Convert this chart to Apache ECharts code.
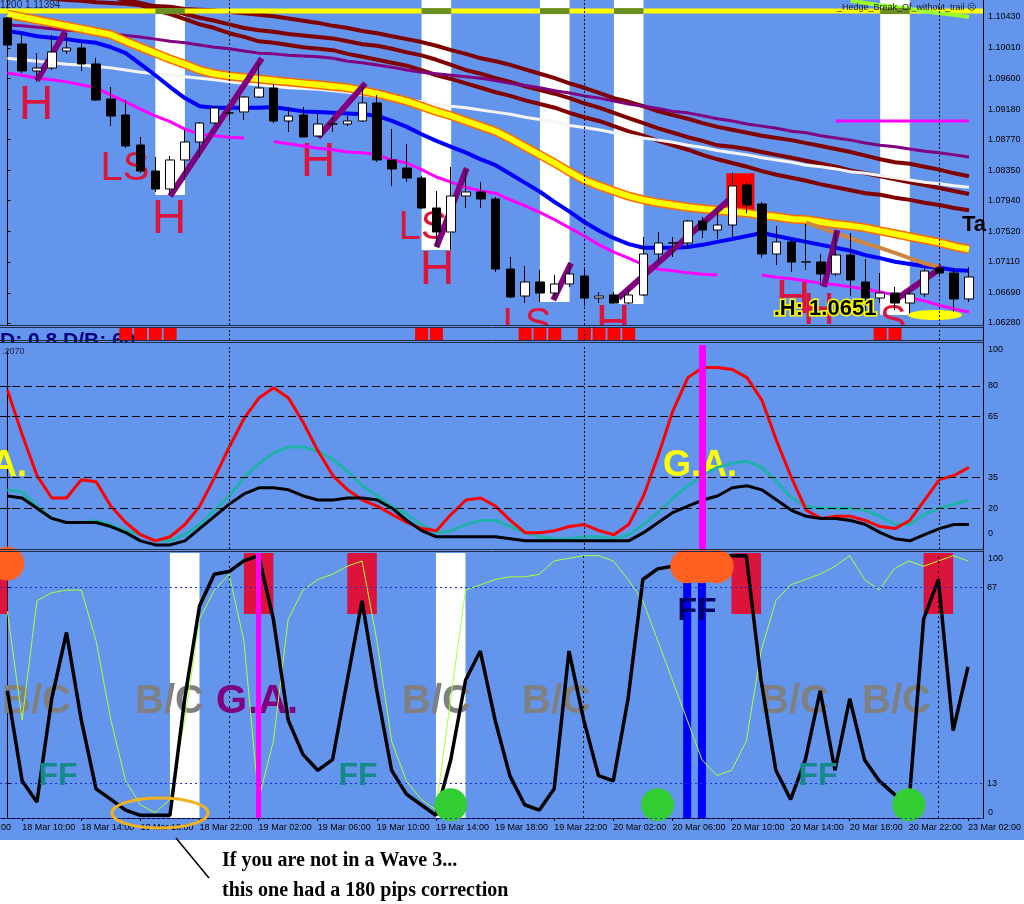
<!DOCTYPE html>
<html><head><meta charset="utf-8">
<script src="https://cdn.jsdelivr.net/npm/echarts@6/dist/echarts.min.js"></script>
<style>html,body{margin:0;padding:0;background:#fff;}#c{width:1024px;height:904px;}</style>
</head><body><div id="c"></div>
<script>
// ---------- DATA ----------
const tickIdx = [1,5,9,13,17,21,25,29,33,37,41,45,49,53,57,61,65];
const tickText = ['18 Mar 10:00','18 Mar 14:00','18 Mar 18:00','18 Mar 22:00','19 Mar 02:00','19 Mar 06:00','19 Mar 10:00','19 Mar 14:00','19 Mar 18:00','19 Mar 22:00','20 Mar 02:00','20 Mar 06:00','20 Mar 10:00','20 Mar 14:00','20 Mar 18:00','20 Mar 22:00','23 Mar 02:00'];
const priceTicks = [1.1043,1.1001,1.0960,1.0918,1.0877,1.0835,1.0794,1.0752,1.0711,1.0669,1.0628];
const daySeparators = [15,39,63];

const opens = [1.10416,1.10064,1.09698,1.09738,1.09969,1.10010,1.09793,1.09318,1.09101,1.08694,1.08341,1.08097,1.08491,1.08735,1.08992,1.09128,1.09142,1.09345,1.09467,1.09020,1.09101,1.08816,1.08979,1.08979,1.09020,1.09264,1.08491,1.08382,1.08246,1.07840,1.07514,1.08002,1.08057,1.07962,1.07012,1.06646,1.06836,1.06687,1.06809,1.06917,1.06619,1.06660,1.06551,1.06660,1.07216,1.07365,1.07365,1.07663,1.07541,1.07609,1.08152,1.07894,1.07216,1.07379,1.07107,1.07107,1.06945,1.07202,1.06836,1.06619,1.06687,1.06551,1.06673,1.07026,1.06958,1.06606];
const closes = [1.10050,1.09698,1.09738,1.09955,1.10010,1.09793,1.09304,1.09087,1.08681,1.08341,1.08097,1.08491,1.08735,1.08992,1.09196,1.09130,1.09345,1.09467,1.09020,1.09087,1.08803,1.08979,1.08981,1.09020,1.09264,1.08491,1.08369,1.08246,1.07840,1.07514,1.08002,1.08057,1.07962,1.07012,1.06633,1.06836,1.06687,1.06809,1.06945,1.06619,1.06646,1.06551,1.06660,1.07216,1.07365,1.07368,1.07663,1.07541,1.07609,1.08138,1.07880,1.07216,1.07379,1.07107,1.07110,1.06945,1.07202,1.06863,1.06619,1.06687,1.06551,1.06673,1.06985,1.06958,1.06606,1.06904];
const lows = [1.10037,1.09671,1.09548,1.09711,1.09928,1.09698,1.09290,1.08952,1.08653,1.08314,1.08057,1.08016,1.08219,1.08531,1.08985,1.09006,1.09033,1.09331,1.08992,1.08870,1.08800,1.08810,1.08870,1.08952,1.09006,1.08464,1.08138,1.08192,1.07826,1.07311,1.07270,1.07840,1.07840,1.06972,1.06619,1.06551,1.06565,1.06619,1.06768,1.06511,1.06551,1.06538,1.06538,1.06646,1.07094,1.07175,1.07284,1.07433,1.07419,1.07446,1.07772,1.07162,1.07067,1.06972,1.06999,1.06795,1.06917,1.06646,1.06429,1.06551,1.06456,1.06389,1.06633,1.06904,1.06361,1.06565];
const highs = [1.10430,1.10213,1.09942,1.10186,1.10213,1.10077,1.09874,1.09481,1.09304,1.08803,1.08531,1.08545,1.08897,1.09006,1.09209,1.09196,1.09359,1.09820,1.09521,1.09209,1.09209,1.09128,1.09074,1.09087,1.09508,1.09372,1.08911,1.08708,1.08274,1.08070,1.08396,1.08355,1.08192,1.07989,1.07175,1.07053,1.06999,1.06931,1.07094,1.07026,1.06700,1.06700,1.06741,1.07446,1.07514,1.07446,1.07677,1.07718,1.07813,1.08314,1.08192,1.07921,1.07596,1.07433,1.07623,1.07216,1.07514,1.07500,1.07148,1.06958,1.06768,1.06741,1.07026,1.07039,1.07026,1.07039];

const maMaroon1 = [1.1074,1.1071,1.1070,1.1068,1.1066,1.1065,1.1063,1.1062,1.1061,1.1059,1.1058,1.1057,1.1054,1.1053,1.1052,1.1050,1.1048,1.1046,1.1044,1.1041,1.1038,1.1035,1.1031,1.1028,1.1024,1.1021,1.1017,1.1013,1.1009,1.1004,1.0998,1.0993,1.0987,1.0983,1.0978,1.0972,1.0966,1.0960,1.0953,1.0947,1.0940,1.0933,1.0928,1.0922,1.0915,1.0910,1.0905,1.0899,1.0894,1.0890,1.0886,1.0882,1.0879,1.0876,1.0872,1.0868,1.0864,1.0860,1.0855,1.0850,1.0846,1.0844,1.0840,1.0836,1.0831,1.0827];
const maMaroon2 = [1.1105,1.1100,1.1096,1.1090,1.1086,1.1081,1.1077,1.1071,1.1066,1.1062,1.1057,1.1052,1.1047,1.1042,1.1038,1.1033,1.1028,1.1025,1.1023,1.1020,1.1018,1.1016,1.1014,1.1010,1.1006,1.1004,1.1000,1.0995,1.0991,1.0985,1.0978,1.0971,1.0966,1.0960,1.0955,1.0949,1.0944,1.0939,1.0933,1.0926,1.0920,1.0913,1.0906,1.0899,1.0892,1.0886,1.0880,1.0875,1.0869,1.0867,1.0864,1.0860,1.0856,1.0852,1.0848,1.0844,1.0840,1.0835,1.0831,1.0827,1.0823,1.0819,1.0815,1.0811,1.0807,1.0803];
const maMaroon3 = [1.1115,1.1108,1.1103,1.1096,1.1089,1.1084,1.1077,1.1071,1.1065,1.1059,1.1052,1.1047,1.1040,1.1033,1.1028,1.1021,1.1016,1.1010,1.1008,1.1005,1.1002,1.1000,1.0998,1.0993,1.0989,1.0985,1.0981,1.0977,1.0971,1.0964,1.0959,1.0953,1.0947,1.0941,1.0936,1.0930,1.0925,1.0920,1.0913,1.0907,1.0902,1.0895,1.0888,1.0882,1.0875,1.0869,1.0863,1.0856,1.0850,1.0845,1.0840,1.0834,1.0829,1.0825,1.0821,1.0816,1.0812,1.0808,1.0804,1.0802,1.0798,1.0795,1.0791,1.0788,1.0784,1.0781];
const maPurple = [1.1032,1.1031,1.1029,1.1027,1.1025,1.1024,1.1022,1.1020,1.1018,1.1016,1.1013,1.1010,1.1008,1.1005,1.1002,1.1000,1.0997,1.0994,1.0993,1.0991,1.0990,1.0989,1.0987,1.0983,1.0981,1.0978,1.0975,1.0971,1.0968,1.0966,1.0964,1.0962,1.0960,1.0957,1.0953,1.0950,1.0947,1.0943,1.0940,1.0936,1.0933,1.0929,1.0925,1.0922,1.0919,1.0915,1.0913,1.0909,1.0905,1.0902,1.0898,1.0895,1.0892,1.0888,1.0886,1.0882,1.0879,1.0876,1.0872,1.0869,1.0867,1.0864,1.0861,1.0859,1.0856,1.0853];
const maWhite = [1.0987,1.0985,1.0983,1.0981,1.0979,1.0978,1.0976,1.0974,1.0971,1.0968,1.0966,1.0964,1.0962,1.0960,1.0958,1.0955,1.0953,1.0951,1.0949,1.0947,1.0946,1.0945,1.0943,1.0941,1.0938,1.0935,1.0932,1.0930,1.0928,1.0925,1.0922,1.0920,1.0917,1.0914,1.0911,1.0907,1.0904,1.0901,1.0896,1.0893,1.0890,1.0886,1.0883,1.0879,1.0876,1.0873,1.0869,1.0866,1.0862,1.0859,1.0856,1.0852,1.0849,1.0846,1.0842,1.0840,1.0837,1.0833,1.0831,1.0828,1.0825,1.0822,1.0819,1.0817,1.0814,1.0812];
const maYellow = [1.1047,1.1043,1.1039,1.1035,1.1031,1.1027,1.1023,1.1019,1.1010,1.1002,1.0994,1.0986,1.0979,1.0971,1.0966,1.0963,1.0961,1.0959,1.0957,1.0955,1.0953,1.0951,1.0949,1.0947,1.0943,1.0939,1.0934,1.0929,1.0922,1.0915,1.0909,1.0902,1.0895,1.0888,1.0878,1.0867,1.0856,1.0845,1.0833,1.0822,1.0814,1.0807,1.0800,1.0795,1.0791,1.0788,1.0785,1.0783,1.0781,1.0779,1.0777,1.0774,1.0772,1.0769,1.0768,1.0765,1.0762,1.0760,1.0757,1.0753,1.0749,1.0745,1.0741,1.0737,1.0732,1.0728];
const maBlue = [1.1024,1.1021,1.1017,1.1015,1.1013,1.1010,1.1008,1.1002,1.0994,1.0979,1.0964,1.0948,1.0933,1.0922,1.0920,1.0920,1.0920,1.0920,1.0921,1.0918,1.0915,1.0914,1.0913,1.0912,1.0911,1.0909,1.0902,1.0894,1.0884,1.0875,1.0867,1.0859,1.0850,1.0842,1.0830,1.0818,1.0806,1.0792,1.0779,1.0765,1.0753,1.0743,1.0735,1.0730,1.0730,1.0730,1.0731,1.0734,1.0738,1.0742,1.0746,1.0750,1.0746,1.0742,1.0738,1.0734,1.0730,1.0726,1.0720,1.0716,1.0711,1.0708,1.0705,1.0703,1.0700,1.0699];
const maMagenta = [1.0967,1.0964,1.0960,1.0958,1.0955,1.0951,1.0947,1.0937,1.0928,1.0918,1.0909,1.0901,1.0891,1.0884,1.0882,1.0880,1.0879,null,1.0874,1.0871,1.0868,1.0865,1.0863,1.0860,1.0859,1.0856,1.0849,1.0845,1.0836,1.0826,1.0819,1.0812,1.0807,1.0804,1.0795,1.0787,1.0778,1.0768,1.0757,1.0746,1.0734,1.0724,1.0716,1.0707,1.0701,1.0699,1.0696,1.0694,1.0693,null,null,1.0693,1.0690,1.0688,1.0685,1.0682,1.0680,1.0677,1.0674,1.0670,1.0666,1.0662,1.0658,1.0652,1.0647,1.0643];
const tanStart = 54;
const tanLine = [1.0764,1.0757,1.0750,1.0743,1.0736,1.0730,1.0723,1.0716,1.0709,1.0704];
const limeStart = 57;
const limeLine = [1.1065,1.1062,1.1059,1.1057,1.1054,1.1051,1.1048,1.1046,1.1043];
const topLevel = 1.1051;
const magentaLevel = {from:56, to:65, price:1.0902};
const trendSegs = [[2.0,1.0957,3.9,1.1023],[11.0,1.0800,17.2,1.0987],[21.0,1.0880,24.2,1.0953],[29.0,1.0731,31.05,1.0838],[36.9,1.0659,38.1,1.0709],[41.3,1.0662,48.8,1.0795],[55.2,1.0677,56.1,1.0754],[60.2,1.0662,63.2,1.0704]];
const whiteBandsTop = [[10,12],[28,30],[36,38],[41,43],[59,61]];
const redBoxes = [[48.6,50.5,1.0831,1.0777]];
const redSignalIdx = [8,9,10,11,28,29,35,36,37,39,40,41,42,59,60];

const oscLevels = [80,65,35,20];
const oscRed = [78,56,36,25,25,34,33,21,13,7,4,6,12,21,35,50,64,74,79,74,62,48,36,29,24,21,17,13,10,9,17,24,25,21,14,8,8,9,11,12,9,7,12,26,46,68,84,89,89,88,84,73,53,35,19,15,16,16,14,11,10,14,24,34,36,40];
const oscTeal = [29,28,21,15,13,13,14,12,9,7,4,4,7,12,19,26,35,42,47,50,50,48,44,38,31,26,21,17,12,8,9,12,14,14,11,8,6,5,5,6,6,5,7,12,18,25,31,36,40,42,43,40,33,25,21,20,20,20,19,16,12,12,17,20,22,24];
const oscBlack = [26,25,20,15,13,13,13,11,8,4,2,2,4,10,16,22,27,30,30,29,26,24,24,25,25,24,20,14,9,6,6,6,6,6,5,4,4,4,4,4,4,4,4,8,13,18,21,24,26,30,31,29,24,19,16,15,15,14,12,8,5,4,7,10,12,12];
const oscMagentaIdx = [47];

const stochLevels = [87,13,0];
const stochMain = [48,14,6,45,70,37,11,7,3,1,1,1,45,80,92,93,97,99,75,37,24,18,22,52,82,48,18,9,5,1,22,52,63,37,16,5,3,11,63,37,16,14,45,90,94,95,97,98,99,99,99,52,18,7,22,48,18,45,22,14,9,5,75,90,33,57];
const stochSignal = [78,37,82,85,86,86,67,37,14,5,2,7,37,75,86,92,67,7,29,75,86,90,92,95,97,67,29,14,7,3,45,86,88,90,91,91,92,97,98,99,99,97,90,82,67,52,37,22,16,18,29,63,82,88,90,92,95,99,90,86,94,97,95,97,99,97];
const whiteBandsBottom = [[11,13],[29,31]];
const redBlocksBottom = [[-1,0],[16,18],[23,25],[49,51],[62,64]];
const redBlockFrom = 77;
const blueBarIdx = [46,47];
const stochMagentaIdx = [17];
const orangeDots = [[0,96],[46,95],[47,95],[48,95]];
const greenDots = [[30,5],[44,5],[61,5]];

// ---------- CHART ----------
const N = opens.length;
const idx = Array.from({length:N},(_,i)=>i);
const XMIN=-0.5, XMAX=65.95;
const BG='#6495ED';
const FONT='"Liberation Sans", Arial, sans-serif';
const pts = a => a.map((v,i)=>[i, v==null?null:v]);
const sub = (start, a) => a.map((v,k)=>[start+k, v]);

function line(name, data, g, color, width, z, extra){
  return Object.assign({type:'line', name, data, xAxisIndex:g, yAxisIndex:g, showSymbol:false, symbol:'none', silent:true,
    lineStyle:{color, width}, z, animation:false, connectNulls:false}, extra||{});
}
function vSep(g){
  return {symbol:'none', silent:true, label:{show:false}, lineStyle:{color:'#000', type:[2,2], width:1},
    data: daySeparators.map(i=>({xAxis:i}))};
}
function bandRender(yTopVal, yBotVal, fill){
  return function(params, api){
    const a = api.coord([api.value(0), yTopVal!=null?yTopVal:api.value(2)]);
    const b = api.coord([api.value(1), yBotVal!=null?yBotVal:api.value(2)]);
    return {type:'rect', shape:{x:a[0], y:a[1], width:b[0]-a[0], height:b[1]-a[1]}, style:{fill}};
  };
}

const grids = [
  {left:0, right:41, top:0, height:325},
  {left:0, right:41, top:328, height:12},
  {left:0, right:41, top:345, height:204},
  {left:0, right:41, top:553, height:265}
];
const xAxes = grids.map((g,k)=>({
  type:'value', gridIndex:k, min:XMIN, max:XMAX, splitLine:{show:false},
  axisLine:{show:k===3, lineStyle:{color:'#000'}},
  axisTick:{show:k===3, customValues:tickIdx, length:3, lineStyle:{color:'#000'}},
  axisLabel:{show:k===3, customValues:tickIdx, align:'left', margin:5, color:'#000', fontSize:9, fontFamily:FONT,
    formatter:v=>{const j=tickIdx.indexOf(Math.round(v)); return j>=0?tickText[j]:'';}}
}));
const yAxes = [
  {type:'value', gridIndex:0, min:1.062529, max:1.106606, position:'right', splitLine:{show:false},
   axisLine:{show:true, lineStyle:{color:'#000'}}, axisTick:{show:true, customValues:priceTicks, length:3, lineStyle:{color:'#000'}},
   axisLabel:{customValues:priceTicks, formatter:v=>v.toFixed(5), color:'#000', fontSize:9, fontFamily:FONT, margin:5}},
  {type:'value', gridIndex:1, min:0, max:1, show:false},
  {type:'value', gridIndex:2, min:0, max:100, position:'right', splitLine:{show:false},
   axisLine:{show:true, lineStyle:{color:'#000'}}, axisTick:{show:true, customValues:[0,20,35,65,80,100], length:3, lineStyle:{color:'#000'}},
   axisLabel:{customValues:[20,35,65,80], color:'#000', fontSize:9, fontFamily:FONT, margin:5}},
  {type:'value', gridIndex:3, min:0, max:100, position:'right', splitLine:{show:false},
   axisLine:{show:true, lineStyle:{color:'#000'}}, axisTick:{show:true, customValues:[0,13,87,100], length:3, lineStyle:{color:'#000'}},
   axisLabel:{customValues:[13,87], color:'#000', fontSize:9, fontFamily:FONT, margin:5}}
];

const series = [];
// ---- price panel ----
series.push({type:'custom', xAxisIndex:0, yAxisIndex:0, z:0, silent:true, animation:false,
  data: whiteBandsTop.map(([a,b])=>[a,b,Math.min(...lows.slice(a,b+1))]),
  renderItem:(params, api)=>{
    const a = api.coord([api.value(0), api.value(2)]);
    const b = api.coord([api.value(1), api.value(2)]);
    const top = params.coordSys.y;
    return {type:'rect', shape:{x:a[0], y:top, width:b[0]-a[0], height:a[1]-top}, style:{fill:'#ffffff'}};
  }});
series.push({type:'custom', xAxisIndex:0, yAxisIndex:0, z:1, silent:true, animation:false,
  data: redBoxes, renderItem:(p,api)=>{
    const a=api.coord([api.value(0),api.value(2)]), b=api.coord([api.value(1),api.value(3)]);
    return {type:'rect', shape:{x:a[0],y:a[1],width:b[0]-a[0],height:b[1]-a[1]}, style:{fill:'#ff0000'}};
  }});
series.push(line('m1', pts(maMaroon1), 0, '#800000', 4, 2, {markLine:vSep(0)}));
series.push(line('m2', pts(maMaroon2), 0, '#800000', 4, 2));
series.push(line('m3', pts(maMaroon3), 0, '#800000', 4, 2));
series.push(line('purple', pts(maPurple), 0, '#800080', 3, 2));
series.push(line('white', pts(maWhite), 0, '#f4f4f4', 3, 2));
series.push(line('topLevel', [[XMIN, topLevel],[XMAX, topLevel]], 0, '#ffff00', 5, 2));
series.push(line('yellowEdge', pts(maYellow), 0, '#ff6a00', 9, 2));
series.push(line('yellow', pts(maYellow), 0, '#ffff00', 6, 2));
series.push(line('lime', sub(limeStart, limeLine), 0, '#9aff2a', 4, 2));
series.push(line('blue', pts(maBlue), 0, '#0000ff', 4, 2));
series.push(line('magenta', pts(maMagenta), 0, '#ff00ff', 3, 2));
series.push(line('magentaLvl', [[magentaLevel.from, magentaLevel.price],[magentaLevel.to, magentaLevel.price]], 0, '#ff00ff', 3, 2));
series.push(line('tan', sub(tanStart, tanLine), 0, '#cd853f', 4, 2));
series.push({type:'custom', xAxisIndex:0, yAxisIndex:0, z:3, silent:true, animation:false,
  data: whiteBandsTop, renderItem:(p,api)=>{
    const a=api.coord([api.value(0), topLevel]), b=api.coord([api.value(1), topLevel]);
    return {type:'rect', shape:{x:a[0], y:a[1]-3, width:b[0]-a[0], height:6}, style:{fill:'#6b8e23'}};
  }});
trendSegs.forEach(s=>series.push(line('trend', [[s[0],s[1]],[s[2],s[3]]], 0, '#800080', 6, 3)));
series.push({type:'candlestick', xAxisIndex:0, yAxisIndex:0, z:4, silent:true, animation:false,
  data: idx.map(i=>[i, opens[i], closes[i], lows[i], highs[i]]), barWidth:9,
  itemStyle:{color:'#ffffff', color0:'#000000', borderColor:'#000000', borderColor0:'#000000', borderWidth:1}});
// ---- red strip ----
series.push({type:'bar', xAxisIndex:1, yAxisIndex:1, z:2, silent:true, animation:false, barWidth:13,
  data: redSignalIdx.map(i=>[i,1]), itemStyle:{color:'#ff0000'}, markLine:vSep(1)});
// ---- oscillator ----
series.push(line('oscTeal', pts(oscTeal), 2, '#20b2aa', 3, 2, {markLine:{symbol:'none', silent:true, label:{show:false},
  lineStyle:{color:'#000', type:[8,4], width:1}, data: oscLevels.map(v=>({yAxis:v})).concat(daySeparators.map(i=>({xAxis:i, lineStyle:{type:[2,2]}})))}}));
series.push(line('oscRed', pts(oscRed), 2, '#ff0000', 3, 2));
series.push(line('oscBlack', pts(oscBlack), 2, '#000000', 3, 3, {markLine:{symbol:'none', silent:true, label:{show:false},
  lineStyle:{color:'#ff00ff', width:7, type:'solid'}, data: oscMagentaIdx.map(i=>({xAxis:i}))}}));
// ---- stochastic ----
series.push({type:'custom', xAxisIndex:3, yAxisIndex:3, z:0, silent:true, animation:false, data: whiteBandsBottom,
  renderItem:bandRender(100,0,'#ffffff')});
series.push({type:'custom', xAxisIndex:3, yAxisIndex:3, z:1, silent:true, animation:false, data: redBlocksBottom,
  renderItem:bandRender(100,redBlockFrom,'#dc143c')});
series.push({type:'bar', xAxisIndex:3, yAxisIndex:3, z:2, silent:true, animation:false, barWidth:8,
  data: blueBarIdx.map(i=>[i,100]), itemStyle:{color:'#0000ff'}});
series.push(line('stochSig', pts(stochSignal), 3, '#adff2f', 1, 2, {markLine:{symbol:'none', silent:true, label:{show:false},
  lineStyle:{color:'#1c2ccc', type:[2,3], width:1}, data: stochLevels.map(v=>({yAxis:v})).concat(daySeparators.map(i=>({xAxis:i, lineStyle:{color:'#000'}})))}}));
series.push(line('stochMain', pts(stochMain), 3, '#000000', 3.5, 3, {markLine:{symbol:'none', silent:true, label:{show:false},
  lineStyle:{color:'#ff00ff', width:5, type:'solid'}, data: stochMagentaIdx.map(i=>({xAxis:i}))}}));
series.push({type:'scatter', xAxisIndex:3, yAxisIndex:3, z:4, silent:true, animation:false, symbolSize:34,
  data: orangeDots, itemStyle:{color:'#ff6020', opacity:1}, clip:true});
series.push({type:'scatter', xAxisIndex:3, yAxisIndex:3, z:4, silent:true, animation:false, symbolSize:33,
  data: greenDots, itemStyle:{color:'#32cd32', opacity:1}, clip:true});

// ---------- GRAPHIC ----------
function txt(text, x, y, size, color, opts){
  opts = opts||{};
  return {type:'text', x, y, z:opts.z!=null?opts.z:1, silent:true, style:Object.assign({text, fill:color,
    font:(opts.weight||'normal')+' '+size+'px '+(opts.family||FONT),
    align:opts.align||'center', textAlign:opts.align||'center', verticalAlign:'middle', textVerticalAlign:'middle'}, opts.style||{})};
}
const RED='#dc143c';
const SERIF='"Liberation Serif", "Times New Roman", serif';
const graphic = [
  {type:'rect', shape:{x:0,y:0,width:1024,height:840}, style:{fill:BG}, z:-100, silent:true},
  // red H / LS letters
  txt('H',36,106,48,RED), txt('LS',125,169,40,RED), txt('H',169,220,48,RED), txt('H',318,163,48,RED),
  txt('LS',423,228,40,RED), txt('H',437,271,48,RED),
  txt('LS',527,325,40,RED), txt('H',613,325,48,RED),
  txt('H',793,300,48,RED), txt('H',819,312,44,RED), txt('S',893,322,40,RED),
  {type:'ellipse', shape:{cx:935,cy:315,rx:27,ry:5}, style:{fill:'#ffff00'}, z:5, silent:true},
  txt('.H: 1.0651',825,309,22,'#000',{weight:'bold', z:6, style:{stroke:'#ffff00', lineWidth:3}}),
  txt('Ta',962,225,22,'#000',{weight:'bold', align:'left', z:6}),
  // cover below price panel
  {type:'rect', shape:{x:0,y:325,width:983,height:20}, style:{fill:BG}, z:1.5, silent:true},
  txt('D: 0.8 D/B: 60',0,341,21,'#000080',{weight:'bold', align:'left', z:1.6}),
  {type:'rect', shape:{x:0,y:342,width:983,height:8}, style:{fill:BG}, z:1.7, silent:true},
  // panel separators
  {type:'line', shape:{x1:0,y1:325.5,x2:983,y2:325.5}, style:{stroke:'#1e2c48',lineWidth:1}, z:10, silent:true},
  {type:'line', shape:{x1:0,y1:327.5,x2:983,y2:327.5}, style:{stroke:'#1e2c48',lineWidth:1}, z:10, silent:true},
  {type:'line', shape:{x1:0,y1:340.5,x2:983,y2:340.5}, style:{stroke:'#1e2c48',lineWidth:1}, z:10, silent:true},
  {type:'line', shape:{x1:0,y1:342.5,x2:983,y2:342.5}, style:{stroke:'#1e2c48',lineWidth:1}, z:10, silent:true},
  {type:'line', shape:{x1:0,y1:549.5,x2:983,y2:549.5}, style:{stroke:'#1e2c48',lineWidth:1}, z:10, silent:true},
  {type:'line', shape:{x1:0,y1:551.5,x2:983,y2:551.5}, style:{stroke:'#1e2c48',lineWidth:1}, z:10, silent:true},
  {type:'line', shape:{x1:983.5,y1:0,x2:983.5,y2:819}, style:{stroke:'#000',lineWidth:1}, z:10, silent:true},
  // headers
  txt('1200 1.11394',0,5,10,'#1a2040',{align:'left', z:10}),
  txt('_Hedge_Break_Of_without_trail \u2639',976,8,9,'#1a1a1a',{align:'right', z:10}),
  txt('.2070',2,352,9,'#1a2040',{align:'left', z:10}),
  txt('100',988,350,9,'#000',{align:'left', z:10}),
  txt('0',988,534,9,'#000',{align:'left', z:10}),
  txt('100',988,559,9,'#000',{align:'left', z:10}),
  txt('0',988,813,9,'#000',{align:'left', z:10}),
  txt('18 Mar 06:00',-42,828,9,'#000',{align:'left', z:10}),
  // oscillator labels
  txt('G.A.',-47,466,36,'#ffff00',{weight:'bold', align:'left'}),
  txt('G.A.',663,466,36,'#ffff00',{weight:'bold', align:'left'}),
  // stochastic labels
  txt('B/C',2,702,40,'#808080',{weight:'bold', align:'left'}),
  txt('B/C',135,702,40,'#808080',{weight:'bold', align:'left'}),
  txt('G.A.',216,702,40,'#800080',{weight:'bold', align:'left'}),
  txt('B/C',402,702,40,'#808080',{weight:'bold', align:'left'}),
  txt('B/C',522,702,40,'#808080',{weight:'bold', align:'left'}),
  txt('B/C',760,702,40,'#808080',{weight:'bold', align:'left'}),
  txt('B/C',862,702,40,'#808080',{weight:'bold', align:'left'}),
  txt('FF',58,776,32,'#168a8a',{weight:'bold', z:6}),
  txt('FF',358,776,32,'#168a8a',{weight:'bold', z:6}),
  txt('FF',818,776,32,'#168a8a',{weight:'bold', z:6}),
  txt('FF',697,611,32,'#000066',{weight:'bold', z:6}),
  // annotation
  {type:'ellipse', shape:{cx:160,cy:813,rx:48,ry:15}, style:{fill:'none', stroke:'#f2b21e', lineWidth:3}, z:12, silent:true},
  {type:'line', shape:{x1:176,y1:838,x2:209,y2:878}, style:{stroke:'#000',lineWidth:1.5}, z:12, silent:true},
  txt('If you are not in a Wave 3...',222,861,20,'#000',{weight:'bold', align:'left', family:SERIF, z:12}),
  txt('this one had a 180 pips correction',222,891,20,'#000',{weight:'bold', align:'left', family:SERIF, z:12})
];

const chart = echarts.init(document.getElementById('c'), null, {renderer:'canvas'});
chart.setOption({
  backgroundColor:'#ffffff', animation:false,
  grid:grids, xAxis:xAxes, yAxis:yAxes, series, graphic
});
</script></body></html>
